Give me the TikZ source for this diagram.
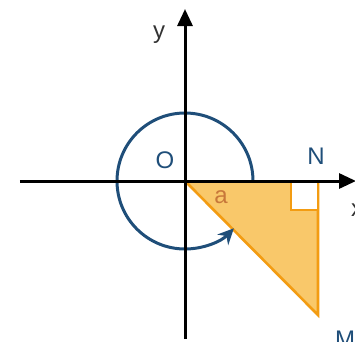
\documentclass[tikz,border=0pt]{standalone}
\usepackage{fontspec}
\setmainfont{Liberation Sans}
\usetikzlibrary{arrows.meta, positioning}
\definecolor{navy}{HTML}{1F4E79}
\definecolor{tri}{HTML}{F9C86A}
\definecolor{triline}{HTML}{F39C12}
\definecolor{angle}{HTML}{C8783A}

\begin{document}
\begin{tikzpicture}[x=1pt, y=1pt, axis/.style={line width=3pt, -{Triangle[length=17pt, width=15pt]}}, lbl/.style={font=\fontsize{24}{24}\selectfont, inner sep=0pt}]
        \useasboundingbox (-185,-160) rectangle (170,181);
        \coordinate (O) at (0,0);
        \coordinate (N) at (133,0);
        \coordinate (M) at (133,-134);
        \coordinate (xl) at (-165,0);
        \coordinate (xr) at (171,0);
        \coordinate (yb) at (0,-158);
        \coordinate (yt) at (0,172);

        % triangle
        \fill[tri] (O) -- (N) -- (M) -- cycle;
        \draw[triline, line width=2.6pt, line join=miter] (O) -- (M) -- (N);
        \draw[triline, line width=2.6pt, fill=white] (N) ++(-27,0) rectangle ++(27,-29);

        % unit circle with arrow
        \draw[navy, line width=3pt, -{Stealth[length=16pt, width=15pt]}] (68,0) arc[start angle=0, end angle=316, radius=68];

        % axes
        \draw[axis] (xl) -- (xr);
        \draw[axis] (yb) -- (yt);

        \node (olbl) [lbl, text=navy] at (-20,21) {O};
        \node (nlbl) [lbl, text=navy] at (131,25) {N};
        \node (mlbl) [lbl, text=navy] at (160,-158) {M};
        \node (xlbl) [lbl, text=black!80] at (172,-29) {x};
        \node (ylbl) [lbl, text=black!80] at (-26,146) {y};
        \node (albl) [lbl, text=angle] at (36,-16) {a};
\end{tikzpicture}
\end{document}
